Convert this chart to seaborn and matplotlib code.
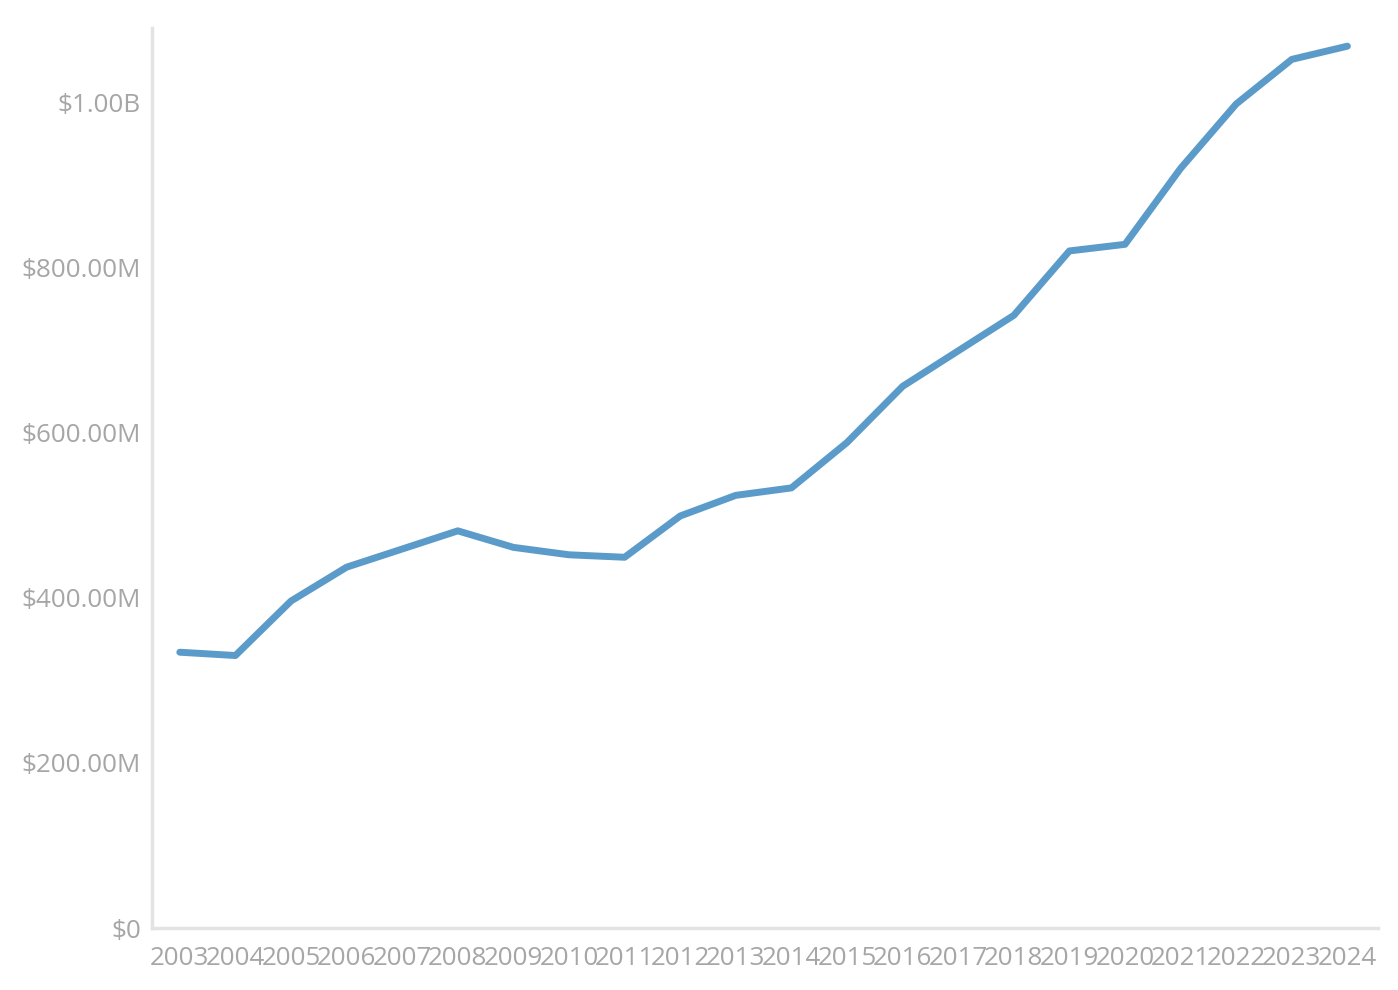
import matplotlib
matplotlib.use("Agg")
import matplotlib.pyplot as plt
import matplotlib.ticker as mticker
import seaborn as sns
import pandas as pd

years = list(range(2003, 2025))
values_m = [334, 330, 396, 437, 459, 481, 461, 452, 449, 499, 524, 533,
            588, 656, 699, 742, 820, 828, 920, 998, 1052, 1068]

df = pd.DataFrame({"year": years, "value": [v * 1e6 for v in values_m]})

sns.set_style("white")
plt.rcParams["font.family"] = ["Open Sans", "DejaVu Sans"]

grey = "#a6a6a6"
spine = "#e3e3e3"

fig = plt.figure(figsize=(13.98, 9.9), dpi=100)
ax = fig.add_axes([152 / 1398, (990 - 928) / 990, (1378 - 152) / 1398, (928 - 28) / 990])

sns.lineplot(data=df, x="year", y="value", ax=ax, color="#5b9bc9", linewidth=5)

ax.set_xlim(2002.5, 2024.55)
ax.set_ylim(0, 1.09e9)
ax.set_xticks(years)
ax.set_xticklabels([str(y) for y in years])
ax.set_yticks([0, 2e8, 4e8, 6e8, 8e8, 1e9])


def fmt(v, pos):
    if v == 0:
        return "$0"
    if v >= 1e9:
        return f"${v / 1e9:.2f}B"
    return f"${v / 1e6:.2f}M"


ax.yaxis.set_major_formatter(mticker.FuncFormatter(fmt))
ax.tick_params(axis="both", length=0, labelsize=18.7, colors=grey)
ax.tick_params(axis="y", pad=8)
ax.tick_params(axis="x", pad=13)
ax.set_xlabel("")
ax.set_ylabel("")

for s in ["top", "right"]:
    ax.spines[s].set_visible(False)
for s in ["left", "bottom"]:
    ax.spines[s].set_color(spine)
    ax.spines[s].set_linewidth(2.5)

fig.savefig("out.png", dpi=100)
